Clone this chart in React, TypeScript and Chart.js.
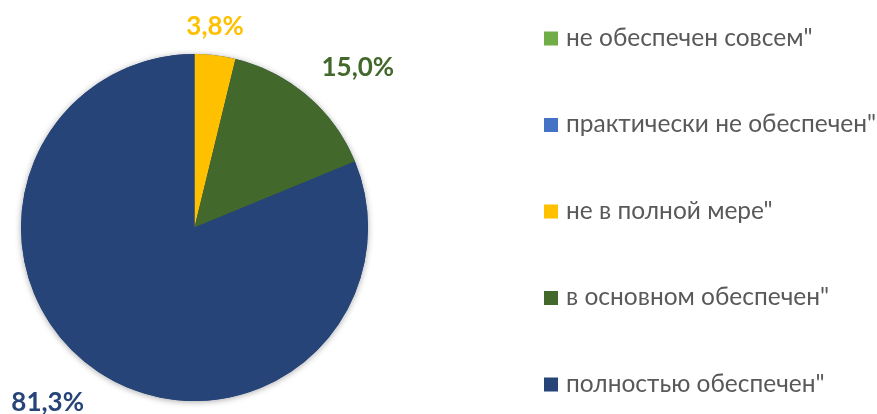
import React, { useEffect, useRef } from "react";
import { Chart, registerables } from "chart.js";

Chart.register(...registerables);

const categories = [
  'не обеспечен совсем"',
  'практически не обеспечен"',
  'не в полной мере"',
  'в основном обеспечен"',
  'полностью обеспечен"',
];
const values = [0, 0, 3.8, 15.0, 81.3];
const colors = ["#70AD47", "#4472C4", "#FFC000", "#43682B", "#264478"];

const fmt = (v: number) => v.toFixed(1).replace(".", ",") + "%";

const shadowPlugin = {
  id: "pieShadow",
  beforeDatasetsDraw(chart: any) {
    const meta = chart.getDatasetMeta(0);
    const arc = meta.data.find((a: any) => a.circumference > 0) || meta.data[0];
    if (!arc) return;
    const { x, y, outerRadius } = arc.getProps(["x", "y", "outerRadius"], true);
    const ctx = chart.ctx;
    ctx.save();
    ctx.shadowColor = "rgba(0,0,0,0.35)";
    ctx.shadowBlur = 6;
    ctx.shadowOffsetX = 0;
    ctx.shadowOffsetY = 1;
    ctx.fillStyle = "#264478";
    ctx.beginPath();
    ctx.arc(x, y, outerRadius, 0, Math.PI * 2);
    ctx.fill();
    ctx.restore();
  },
};

const labelPlugin = {
  id: "outLabels",
  afterDatasetsDraw(chart: any) {
    const ctx = chart.ctx;
    const meta = chart.getDatasetMeta(0);
    ctx.save();
    ctx.font = "bold 26px Lato";
    const dm = ctx.measureText("0");
    const h = dm.actualBoundingBoxAscent;
    meta.data.forEach((arc: any, i: number) => {
      const v = values[i];
      if (!v) return;
      const { x, y, startAngle, endAngle, outerRadius } = arc.getProps(
        ["x", "y", "startAngle", "endAngle", "outerRadius"],
        true
      );
      const mid = (startAngle + endAngle) / 2;
      const cx = Math.cos(mid);
      const cy = Math.sin(mid);
      const px = x + cx * outerRadius;
      const py = y + cy * outerRadius;
      const text = fmt(v);
      const w = ctx.measureText(text).width;
      const dx = Math.abs(cx) > 0.3 ? Math.sign(cx) * (w / 2 + 14) : 0;
      const dy = Math.abs(cy) > 0.3 ? Math.sign(cy) * (h / 2 + 20) : 0;
      const tx = px + dx;
      const ty = py + dy;
      ctx.fillStyle = colors[i];
      ctx.textAlign = "center";
      ctx.textBaseline = "alphabetic";
      ctx.fillText(text, tx, ty + h / 2);
    });
    ctx.restore();
  },
};

const legendPlugin = {
  id: "sideLegend",
  afterDraw(chart: any) {
    const ctx = chart.ctx;
    ctx.save();
    const boxX = 544;
    const box = 14;
    const firstY = 38.5;
    const step = 86.5;
    ctx.font = "24.5px Lato";
    ctx.textAlign = "left";
    ctx.textBaseline = "alphabetic";
    categories.forEach((c, i) => {
      const cyy = firstY + step * i;
      ctx.fillStyle = colors[i];
      ctx.fillRect(boxX, cyy - box / 2, box, box);
      ctx.fillStyle = "#595959";
      ctx.fillText(c, boxX + box + 8, cyy + 7);
    });
    ctx.restore();
  },
};

export default function App() {
  const ref = useRef<HTMLCanvasElement>(null);
  useEffect(() => {
    if (!ref.current) return;
    const chart = new Chart(ref.current, {
      type: "pie",
      data: {
        labels: categories,
        datasets: [
          {
            data: values,
            backgroundColor: colors,
            borderWidth: 0,
          },
        ],
      },
      options: {
        responsive: false,
        animation: false,
        layout: { padding: { left: 21, top: 54, right: 509, bottom: 13 } },
        plugins: {
          legend: { display: false },
          tooltip: { enabled: false },
        },
      },
      plugins: [shadowPlugin, labelPlugin, legendPlugin],
    });
    return () => chart.destroy();
  }, []);
  return (
    <canvas
      ref={ref}
      width={877}
      height={414}
      style={{ position: "absolute", left: 0, top: 0, background: "#fff" }}
    />
  );
}
